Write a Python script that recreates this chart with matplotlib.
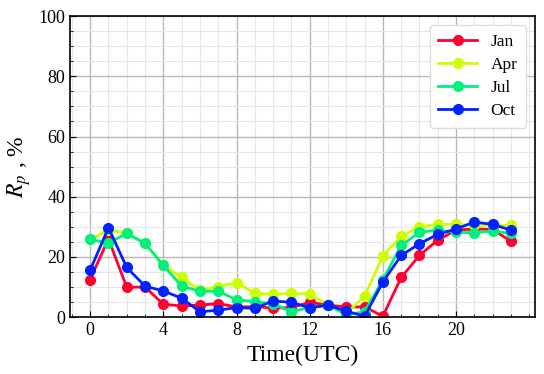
import numpy as np
import matplotlib
matplotlib.use("Agg")
import matplotlib.pyplot as plt
from matplotlib.ticker import MultipleLocator

# Hourly values of R_p [%] for four months
hours = np.arange(24)
jan = [12.5, 26.0, 9.9, 10.0, 4.3, 3.7, 4.0, 4.5, 3.4, 3.5, 3.0, 3.2, 4.9, 4.0, 3.4, 3.4, 0.3, 13.2, 20.5, 25.6, 28.9, 29.3, 29.1, 25.2]
apr = [25.8, 28.9, 27.8, 24.5, 17.2, 13.2, 9.0, 10.1, 11.5, 7.9, 7.6, 7.9, 7.6, 4.2, 1.2, 7.0, 20.3, 26.9, 30.0, 30.8, 30.8, 30.5, 30.5, 30.5]
jul = [25.8, 24.7, 27.8, 24.5, 17.2, 10.3, 8.6, 8.6, 5.8, 5.1, 4.5, 1.8, 3.2, 4.0, 0.8, 1.8, 12.5, 23.8, 28.2, 28.9, 28.2, 28.0, 28.6, 27.8]
octo = [15.6, 29.7, 16.5, 10.3, 8.7, 6.3, 1.8, 2.3, 3.2, 2.9, 5.4, 4.9, 3.1, 4.0, 2.0, 0.3, 11.7, 20.5, 24.4, 27.5, 29.3, 31.6, 30.8, 28.9]
labels = ["Jan", "Apr", "Jul", "Oct"]
colors = ["#ff0033", "#ccff00", "#00f07a", "#0022ff"]
xticks = [0, 4, 8, 12, 16, 20]

plt.rcParams["font.family"] = "Liberation Serif"
plt.rcParams["mathtext.fontset"] = "stix"

fig = plt.figure(figsize=(5.44, 3.74), dpi=100)
ax = fig.add_axes([0.1287, 0.152, 0.8543, 0.805])

for y, lab, c in zip([jan, apr, jul, octo], labels, colors):
    ax.plot(hours, y, "-o", color=c, lw=2, ms=7, label=lab)

ax.set_xlim(-1.1, 24.3)
ax.set_ylim(0, 100)
ax.set_xticks(xticks)
ax.xaxis.set_minor_locator(MultipleLocator(1))
ax.yaxis.set_major_locator(MultipleLocator(20))
ax.yaxis.set_minor_locator(MultipleLocator(5))
ax.grid(which="major", color="#b8b8b8", lw=1)
ax.grid(which="minor", color="#e6e6e6", lw=0.8)
ax.set_axisbelow(True)
ax.tick_params(which="both", direction="in", labelsize=13)
ax.tick_params(which="major", length=4)
ax.tick_params(which="minor", length=2.5)
for s in ax.spines.values():
    s.set_linewidth(1.2)

ax.set_xlabel("Time(UTC)", fontsize=17)
ax.set_ylabel("$R_p$ , %", fontsize=17)
ax.legend(loc="upper right", fontsize=12.5, framealpha=1, edgecolor="#dddddd",
          handlelength=2.2, borderpad=0.5, labelspacing=0.4, borderaxespad=0.5)

fig.savefig("out.png", dpi=100)
